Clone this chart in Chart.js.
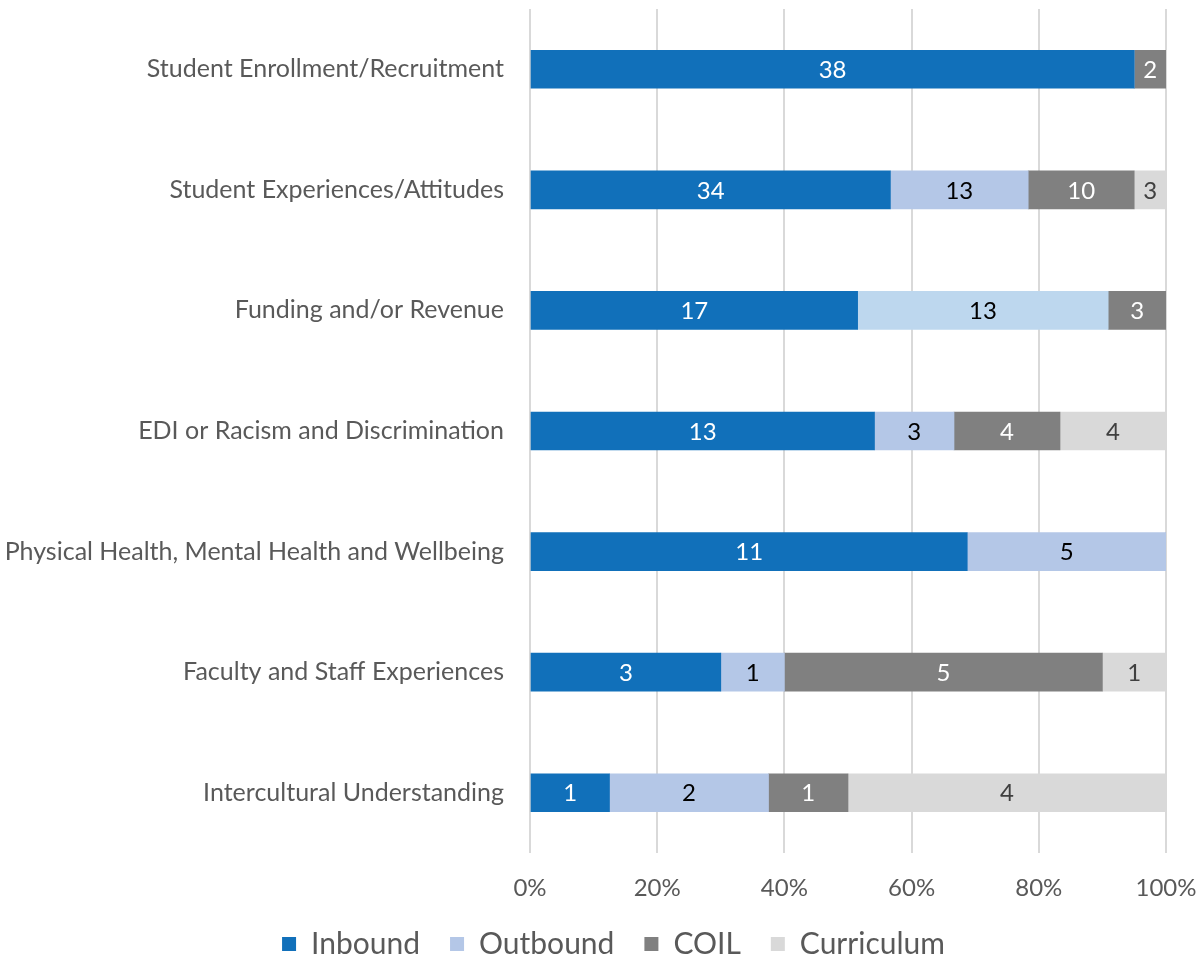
<!DOCTYPE html>
<html>
<head>
<meta charset="utf-8">
<script src="https://cdn.jsdelivr.net/npm/chart.js@4.4.1/dist/chart.umd.min.js"></script>
<style>
  html, body { margin:0; padding:0; background:#fff; }
  #wrap { width:1199px; height:960px; position:relative; }
</style>
</head>
<body>
<div id="wrap"><canvas id="chart"></canvas></div>
<script>
// ===== Data =====
const categories = [
  "Student Enrollment/Recruitment",
  "Student Experiences/Attitudes",
  "Funding and/or Revenue",
  "EDI or Racism and Discrimination",
  "Physical Health, Mental Health and Wellbeing",
  "Faculty and Staff Experiences",
  "Intercultural Understanding"
];
const inbound    = [38, 34, 17, 13, 11, 3, 1];
const outbound   = [0, 13, 13, 3, 5, 1, 2];
const coil       = [2, 10, 3, 4, 0, 5, 1];
const curriculum = [0, 3, 0, 4, 0, 1, 4];
const xTicks = [0, 20, 40, 60, 80, 100];

// ===== Styles =====
const FONT = "Lato, 'Liberation Sans', sans-serif";
const TEXT = "#595959";
// the Funding row's outbound segment is a slightly paler blue in the original
const outboundColors = categories.map((c, i) => i === 2 ? "#BDD7EE" : "#B4C7E7");

const totals = categories.map((c, i) => inbound[i] + outbound[i] + coil[i] + curriculum[i]);
const pct = arr => arr.map((v, i) => v / totals[i] * 100);

// ===== Plugins =====
// count labels in the middle of each segment
const valueLabels = {
  id: "valueLabels",
  afterDatasetsDraw(chart) {
    const ctx = chart.ctx;
    ctx.save();
    ctx.font = "24px " + FONT;
    ctx.textAlign = "center";
    ctx.textBaseline = "middle";
    chart.data.datasets.forEach((ds, di) => {
      const meta = chart.getDatasetMeta(di);
      meta.data.forEach((bar, i) => {
        const raw = ds.counts[i];
        if (!raw) return;
        ctx.fillStyle = ds.labelColor;
        ctx.fillText(String(raw), (bar.x + bar.base) / 2, bar.y + 1);
      });
    });
    ctx.restore();
  }
};

// nudge the legend so it sits where the original puts it
const legendShift = {
  id: "legendShift",
  afterLayout(chart) {
    const lg = chart.legend;
    const dx = 613.5 - (lg.left + lg.right) / 2;
    const dy = -1;
    lg.left += dx; lg.right += dx;
    lg.top += dy; lg.bottom += dy;
  }
};

const ctx = document.getElementById("chart").getContext("2d");
new Chart(ctx, {
  type: "bar",
  data: {
    labels: categories,
    datasets: [
      { label: "Inbound", data: pct(inbound), counts: inbound, backgroundColor: "#1170BA", labelColor: "#ffffff" },
      { label: "Outbound", data: pct(outbound), counts: outbound, backgroundColor: outboundColors, labelColor: "#000000" },
      { label: "COIL", data: pct(coil), counts: coil, backgroundColor: "#808080", labelColor: "#ffffff" },
      { label: "Curriculum", data: pct(curriculum), counts: curriculum, backgroundColor: "#D9D9D9", labelColor: "#404040" }
    ]
  },
  options: {
    indexAxis: "y",
    responsive: true,
    maintainAspectRatio: false,
    animation: false,
    barThickness: 38,
    layout: { autoPadding: false, padding: { top: 9, right: 33, bottom: 0, left: 0 } },
    scales: {
      x: {
        stacked: true,
        min: 0,
        max: 100,
        afterBuildTicks: s => { s.ticks = xTicks.map(v => ({ value: v })); },
        afterFit: s => { s.height = 47; s.paddingLeft = 0; s.paddingRight = 0; },
        grid: { color: "#D9D9D9", lineWidth: 2, drawTicks: false },
        border: { display: false },
        ticks: { color: TEXT, font: { family: FONT, size: 24 }, padding: 21, callback: v => v + "%" }
      },
      y: {
        stacked: true,
        grid: { display: false, drawTicks: false },
        border: { display: false },
        ticks: { color: TEXT, font: { family: FONT, size: 25 }, padding: 26 },
        afterFit: s => { s.width = 530; s.paddingTop = 0; s.paddingBottom = 0; }
      }
    },
    plugins: {
      legend: {
        position: "bottom",
        maxHeight: 60,
        labels: {
          color: TEXT,
          font: { family: FONT, size: 30 },
          boxWidth: 14,
          boxHeight: 14,
          padding: 30,
          generateLabels: chart => chart.data.datasets.map((ds, i) => ({
            text: ds.label,
            fillStyle: i === 1 ? "#B4C7E7" : ds.backgroundColor,
            strokeStyle: "transparent",
            lineWidth: 0,
            fontColor: TEXT,
            datasetIndex: i
          }))
        }
      },
      tooltip: { enabled: false }
    }
  },
  plugins: [legendShift, valueLabels]
});
</script>
</body>
</html>
